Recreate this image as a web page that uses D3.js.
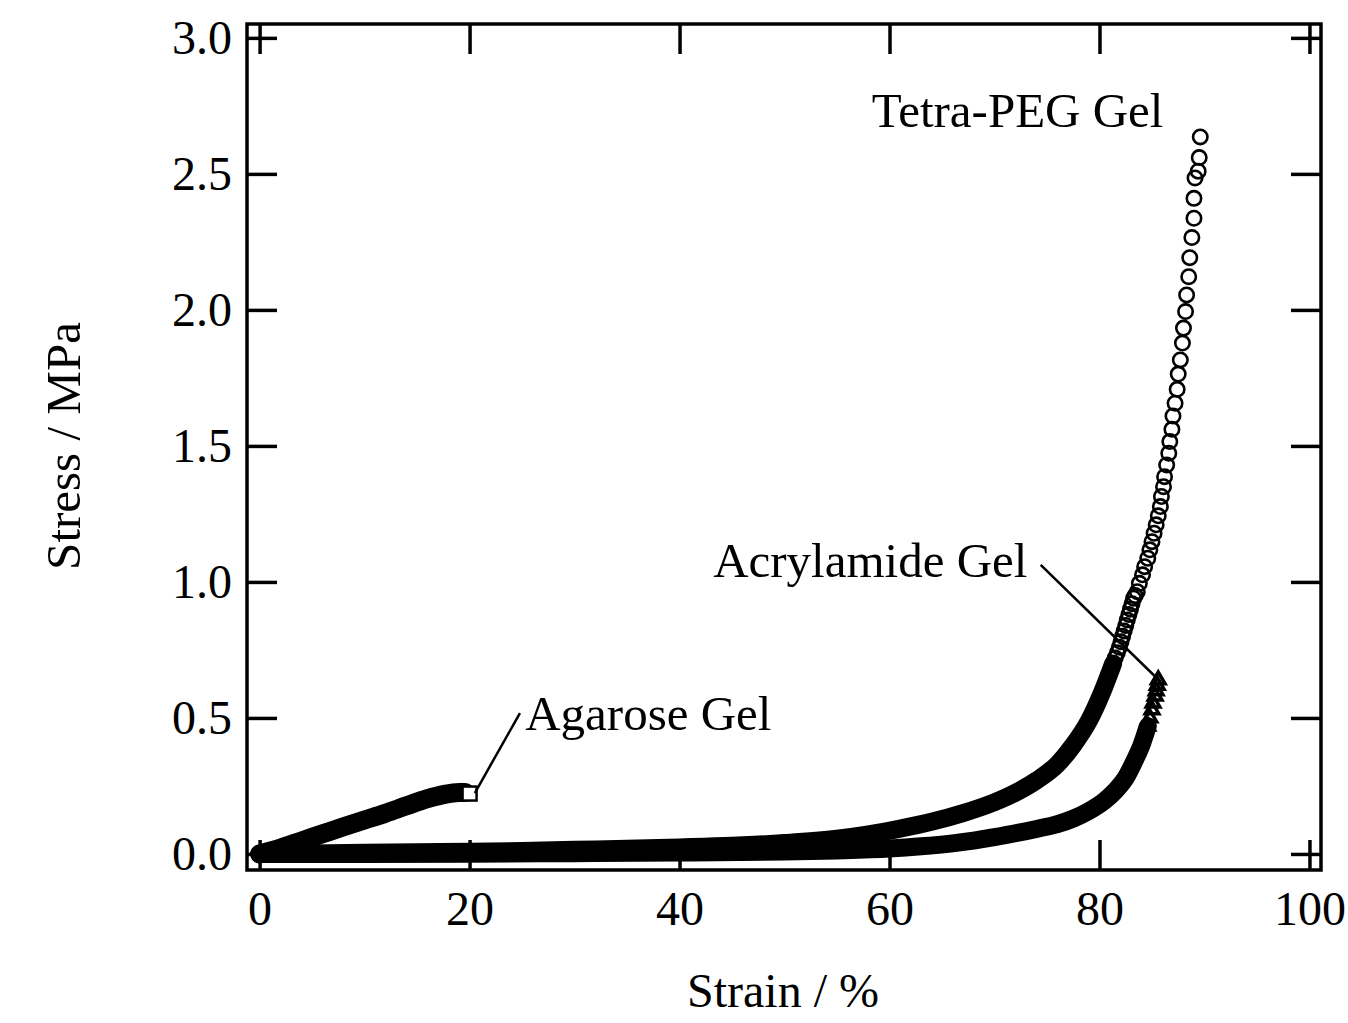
<!DOCTYPE html>
<html>
<head>
<meta charset="utf-8">
<script src="https://cdn.jsdelivr.net/npm/d3@7"></script>
<style>
  body { margin: 0; background: #fff; }
  text { font-family: "Liberation Serif", "Times New Roman", serif; fill: #000; }
</style>
</head>
<body>
<svg id="chart" width="1348" height="1023"></svg>
<script>
// tick values
var strainTicks = [0, 20, 40, 60, 80, 100];
var stressTicks = [0, 0.5, 1.0, 1.5, 2.0, 2.5, 3.0];

// Tetra-PEG gel: dense part (solid band) and the separated rings near the top
var tetraBandStrain = [0, 5, 10, 15, 20, 25, 30, 35, 40, 45, 50, 55, 58, 61, 64, 67, 70, 72, 74, 76, 77.5, 79, 80.2, 81.3];
var tetraBandStress = [0, 0.002, 0.004, 0.006, 0.008, 0.011, 0.015, 0.019, 0.024, 0.03, 0.04, 0.056, 0.072, 0.093, 0.118, 0.15, 0.19, 0.225, 0.27, 0.33, 0.40, 0.49, 0.59, 0.70];
var tetraStrain = [81.3, 81.5, 81.7, 81.9, 82.05, 82.2, 82.35, 82.5, 82.65, 82.8, 82.95, 83.1, 83.25, 83.4,
  83.6, 83.8, 84.1, 84.3, 84.6, 84.8, 85.0, 85.2, 85.4, 85.6, 85.8, 85.9, 86.1, 86.2, 86.4, 86.6, 86.7,
  86.9, 87.0, 87.2, 87.4, 87.5, 87.7, 87.9, 88.0, 88.2, 88.3, 88.5, 88.6, 88.8, 89.0, 89.0, 89.1, 89.4, 89.5, 89.6];
var tetraStress = [0.70, 0.72, 0.74, 0.76, 0.78, 0.80, 0.82, 0.84, 0.86, 0.88, 0.90, 0.92, 0.94, 0.95,
  0.964, 0.995, 1.026, 1.056, 1.087, 1.118, 1.148, 1.179, 1.210, 1.243, 1.277, 1.314, 1.350, 1.387, 1.430, 1.473, 1.516,
  1.561, 1.610, 1.657, 1.708, 1.764, 1.816, 1.878, 1.933, 1.994, 2.055, 2.122, 2.192, 2.266, 2.337, 2.41, 2.485, 2.51, 2.56, 2.636];

// Acrylamide gel
var acrylBandStrain = [0, 10, 20, 30, 40, 50, 55, 60, 63, 66, 68, 70, 72, 74, 76, 77.5, 79, 80.5, 81.5, 82.5, 83.3, 84, 84.6];
var acrylBandStress = [0, 0, 0.001, 0.003, 0.005, 0.009, 0.013, 0.02, 0.028, 0.039, 0.049, 0.062, 0.076, 0.092, 0.11, 0.13, 0.158, 0.196, 0.232, 0.28, 0.34, 0.40, 0.47];
var acrylStrain = [84.6, 84.8, 85.0, 85.1, 85.3, 85.4, 85.5, 85.6];
var acrylStress = [0.47, 0.50, 0.53, 0.555, 0.58, 0.60, 0.62, 0.64];

// Agarose gel
var agarBandStrain = [0, 2, 4, 6, 8, 10, 12, 14, 16, 17.5, 19, 19.6];
var agarBandStress = [0, 0.022, 0.048, 0.074, 0.1, 0.125, 0.15, 0.177, 0.203, 0.218, 0.226, 0.226];
var agarStrain = [20];
var agarStress = [0.222];

var svg = d3.select("#chart");

var x = d3.scaleLinear().domain([-1.2, 101.1]).range([247, 1321]);
var y = d3.scaleLinear().domain([-0.059, 3.051]).range([870, 24]);

function zip(a, b) { return a.map(function(v, i) { return [v, b[i]]; }); }

// axes with inward ticks
var tickLen = 30;
var gL = svg.append("g").attr("transform", "translate(247,0)")
  .call(d3.axisLeft(y).tickValues(stressTicks).tickFormat(d3.format(".1f")).tickSize(-tickLen).tickPadding(15));
var gR = svg.append("g").attr("transform", "translate(1321,0)")
  .call(d3.axisRight(y).tickValues(stressTicks).tickFormat("").tickSize(-tickLen));
var gT = svg.append("g").attr("transform", "translate(0,24)")
  .call(d3.axisTop(x).tickValues(strainTicks).tickFormat("").tickSize(-tickLen));
var gB = svg.append("g").attr("transform", "translate(0,870)")
  .call(d3.axisBottom(x).tickValues(strainTicks).tickFormat(d3.format("d")).tickSize(-tickLen));

[gL, gR, gT, gB].forEach(function(g) {
  g.select(".domain").remove();
  g.selectAll(".tick line").attr("stroke", "#000").attr("stroke-width", 3.5);
  g.selectAll(".tick text").style("font-family", '"Liberation Serif", serif').style("font-size", "48px").attr("fill", "#000");
});
gB.selectAll(".tick text").attr("y", 55).attr("dy", null);

svg.append("rect")
  .attr("x", 247).attr("y", 24).attr("width", 1321 - 247).attr("height", 870 - 24)
  .attr("fill", "none").attr("stroke", "#000").attr("stroke-width", 3.5);

// data
var line = d3.line().x(function(d) { return x(d[0]); }).y(function(d) { return y(d[1]); }).curve(d3.curveMonotoneX);

function band(sx, sy, w) {
  svg.append("path").datum(zip(sx, sy))
    .attr("d", line).attr("fill", "none").attr("stroke", "#000")
    .attr("stroke-width", w).attr("stroke-linecap", "round").attr("stroke-linejoin", "round");
}
band(agarBandStrain, agarBandStress, 19);
band(acrylBandStrain, acrylBandStress, 18);
band(tetraBandStrain, tetraBandStress, 18);

svg.append("g").selectAll("circle").data(zip(tetraStrain, tetraStress)).enter()
  .append("circle")
  .attr("cx", function(d) { return x(d[0]); })
  .attr("cy", function(d) { return y(d[1]); })
  .attr("r", 7.2).attr("fill", "none").attr("stroke", "#000").attr("stroke-width", 2.6);

svg.append("g").selectAll("path").data(zip(acrylStrain, acrylStress)).enter()
  .append("path")
  .attr("transform", function(d) { return "translate(" + x(d[0]) + "," + y(d[1]) + ")"; })
  .attr("d", d3.symbol().type(d3.symbolTriangle).size(80))
  .attr("fill", "none").attr("stroke", "#000").attr("stroke-width", 3.5);

svg.append("g").selectAll("rect").data(zip(agarStrain, agarStress)).enter()
  .append("rect")
  .attr("x", function(d) { return x(d[0]) - 7; })
  .attr("y", function(d) { return y(d[1]) - 7; })
  .attr("width", 14).attr("height", 14)
  .attr("fill", "#fff").attr("stroke", "#000").attr("stroke-width", 2.5);

// annotations
function leader(x1, y1, x2, y2) {
  svg.append("line").attr("x1", x(x1)).attr("y1", y(y1)).attr("x2", x(x2)).attr("y2", y(y2))
    .attr("stroke", "#000").attr("stroke-width", 2.5);
}
leader(20.5, 0.224, 24.8, 0.518);
leader(74.4, 1.063, 85.5, 0.645);

svg.append("text").attr("x", x(25.3)).attr("y", y(0.456)).style("font-size", "49px").text("Agarose Gel");
svg.append("text").attr("x", x(43.2)).attr("y", y(1.018)).style("font-size", "49px").text("Acrylamide Gel");
svg.append("text").attr("x", x(58.3)).attr("y", y(2.673)).style("font-size", "49px").text("Tetra-PEG Gel");

// axis titles
svg.append("text").attr("x", 783).attr("y", 1007).attr("text-anchor", "middle")
  .style("font-size", "48px").text("Strain / %");
svg.append("text").attr("transform", "translate(80,446) rotate(-90)").attr("text-anchor", "middle")
  .style("font-size", "49px").text("Stress / MPa");
</script>
</body>
</html>
